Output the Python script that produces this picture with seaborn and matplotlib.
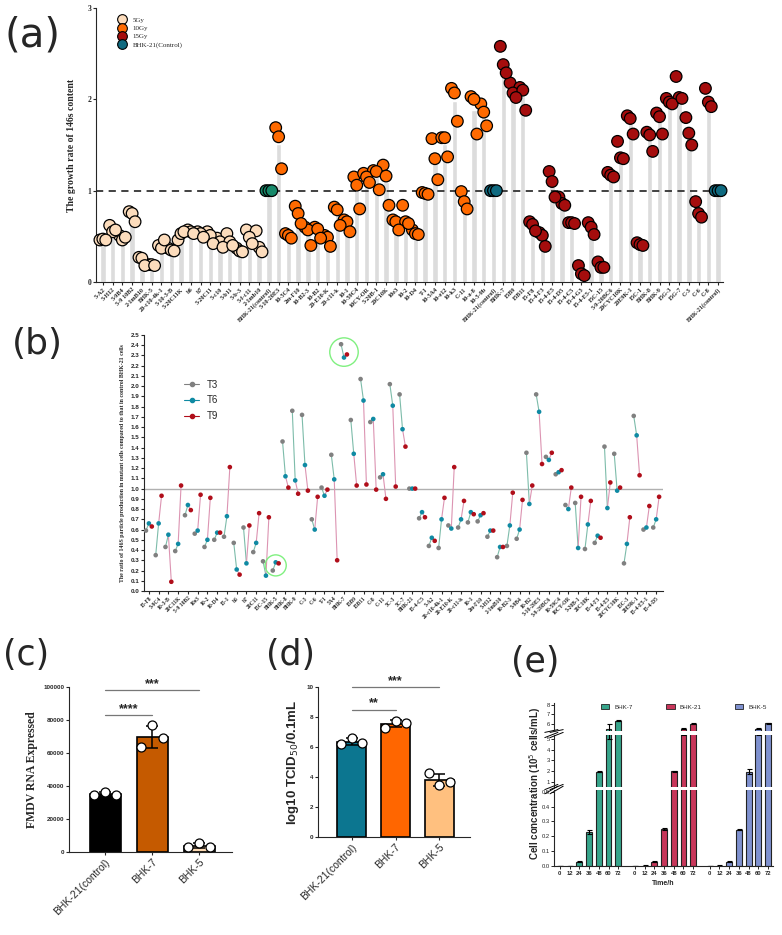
import numpy as np
import pandas as pd
import matplotlib
matplotlib.use('Agg')
import matplotlib.pyplot as plt
import seaborn as sns
from matplotlib.lines import Line2D
from matplotlib.patches import Patch

sns.set_style('ticks')
plt.rcParams['font.family'] = ['Liberation Sans', 'DejaVu Sans']
SERIF = 'Liberation Serif'

# ---------------- (a) growth rate of 146S content, 3 replicates per clone
a_labels = ['5-A2', '5-H12', '5-9B4', '5-9 10B2', '2-1mB10', 'BHK-5', '20-c10-4k-1', '5-10-3-B',
            '5-20C11K', 'b6', 'b7', '5-20C11', '5-c10', '5-b11', '5-b-3', '5-f-c11', '2-1mb10',
            'BHK-21(control)',
            '5-10-20E3', '10-5C4', '2m-F10', '10-B2-3', '10-B2', '20-E10-K', '20-c11-k', '10-1',
            '10-59C4', '10CY-OR', '5-20B-1', '20C10K', '10e3', '10-2', '10-D4', 'T-1', '10-5A4',
            '10-e12', '10-k3', 'C-11', '10-a-8', '10-5-9b', 'BHK-21(control)',
            'BHK-7', '15B9', '15B11', '15-F8', '15-4-F3', '15-4-E5', '15-4-D5', '15-4-C5',
            '15-4-G3', '15-4-E5-1', '15C-15', '5-9-20BC6', '20CYC10K', '20E9K-1', '15C-1',
            'BHK-8', 'BHK-9', '15G-3', '15G-7', 'C-3', 'C-6', 'C-8', 'BHK-21(control)']
a_dose = ['5Gy'] * 17 + ['Control-5'] + ['10Gy'] * 22 + ['Control'] + ['15Gy'] * 22 + ['Control']
a_rep1 = [0.46, 0.62, 0.51, 0.77, 0.27, 0.19, 0.40, 0.37, 0.46, 0.57, 0.55, 0.55, 0.48, 0.53, 0.37, 0.57, 0.56, 1.00,
          1.69, 0.53, 0.83, 0.60, 0.60, 0.51, 0.82, 0.68, 1.15, 1.19, 1.22, 1.28, 0.68, 0.84, 0.57, 0.98, 1.57, 1.58,
          2.12, 0.99, 2.03, 1.95, 1.00,
          2.58, 2.18, 2.13, 0.66, 0.54, 1.21, 0.93, 0.65, 0.18, 0.65, 0.22, 1.20, 1.54, 1.82, 0.43, 1.64, 1.85, 2.01,
          2.25, 1.80, 0.88, 2.12, 1.00]
a_rep2 = [0.47, 0.55, 0.46, 0.75, 0.26, 0.19, 0.37, 0.35, 0.53, 0.55, 0.53, 0.51, 0.44, 0.44, 0.34, 0.49, 0.38, 1.00,
          1.59, 0.51, 0.75, 0.57, 0.58, 0.49, 0.79, 0.66, 1.06, 1.15, 1.21, 1.16, 0.66, 0.66, 0.53, 0.97, 1.35, 1.58,
          2.07, 0.88, 2.00, 1.86, 1.00,
          2.38, 2.07, 2.10, 0.63, 0.51, 1.10, 0.86, 0.65, 0.09, 0.60, 0.16, 1.17, 1.36, 1.79, 0.41, 1.61, 1.81, 1.97,
          2.02, 1.63, 0.75, 1.97, 1.00]
a_rep3 = [0.46, 0.57, 0.49, 0.66, 0.18, 0.18, 0.46, 0.34, 0.55, 0.53, 0.49, 0.42, 0.38, 0.40, 0.33, 0.42, 0.33, 1.00,
          1.24, 0.48, 0.64, 0.40, 0.48, 0.39, 0.62, 0.55, 0.80, 1.09, 1.01, 0.84, 0.57, 0.64, 0.52, 0.96, 1.12, 1.37,
          1.76, 0.80, 1.62, 1.71, 1.00,
          2.29, 2.02, 1.88, 0.56, 0.39, 0.93, 0.84, 0.64, 0.07, 0.52, 0.16, 1.15, 1.35, 1.62, 0.40, 1.43, 1.62, 1.95,
          2.01, 1.50, 0.71, 1.92, 1.00]

# ---------------- (b) 146S ratio at T3 / T6 / T9
b_labels = ['15-F8', '5-9C4', '10-3-B', '20C11K', '5-9 10B2', '10e3', '10-2', '10-D4', '15-1', 'b6', 'b7',
            '20C11', '15C-15', 'BHK-5', 'BHK-8', 'BHK-9', 'C-3', 'C-6', 'T-1', '5A4', 'BHK-7', '15B9',
            '15B11', 'C-8', 'C-11', '5C-3', '5C-7', 'BHK-21', '15-4-C5', '5-A2', '20-c10-4k-1', '20-E10-K',
            '20-c11-k', '10-1', '2m-F10', '5-H12', '2-1mB10', '10-B2-3', '5-9B4', '10-B2', '5-10-20E3',
            '5-9-20BC6', '10-59C4', '10CY-OR', '5-20B-1', '20C10K', '15-4-F3', '15-4-E5', '20CYC10K',
            '15C-3', '20E9K-1', '15-4-E5-1', '15-4-D5']
b_t3 = [0.59, 0.35, 0.43, 0.39, 0.74, 0.56, 0.43, 0.50, 0.53, 0.47, 0.62, 0.38, 0.29, 0.20, 1.46, 1.76, 1.72,
        0.70, 1.01, 1.33, 2.41, 1.67, 2.07, 1.65, 1.11, 2.02, 1.92, 1.00, 0.71, 0.44, 0.42, 0.64, 0.62, 0.67,
        0.68, 0.53, 0.33, 0.44, 0.51, 1.35, 1.92, 1.31, 1.14, 0.84, 0.86, 0.41, 0.47, 1.41, 1.34, 0.27, 1.71,
        0.60, 0.62]
b_t6 = [0.66, 0.66, 0.55, 0.46, 0.84, 0.59, 0.50, 0.57, 0.73, 0.21, 0.27, 0.47, 0.15, 0.28, 1.12, 1.08, 1.23,
        0.60, 0.93, 1.09, 2.28, 1.34, 1.86, 1.68, 1.14, 1.81, 1.58, 1.00, 0.77, 0.52, 0.70, 0.61, 0.70, 0.77,
        0.74, 0.59, 0.43, 0.64, 0.60, 0.85, 1.75, 1.28, 1.16, 0.80, 0.42, 0.65, 0.54, 0.81, 0.98, 0.46, 1.52,
        0.62, 0.70]
b_t9 = [0.63, 0.93, 0.09, 1.03, 0.79, 0.94, 0.91, 0.57, 1.21, 0.16, 0.64, 0.76, 0.72, 0.27, 1.01, 0.95, 0.98,
        0.92, 0.99, 0.30, 2.31, 1.03, 1.04, 0.99, 0.90, 1.02, 1.41, 1.00, 0.72, 0.49, 0.91, 1.21, 0.88, 0.75,
        0.76, 0.59, 0.43, 0.96, 0.89, 1.03, 1.24, 1.35, 1.18, 1.01, 0.92, 0.88, 0.52, 1.06, 1.01, 0.72, 1.13,
        0.83, 0.92]
b_circled = ['BHK-5', 'BHK-7']

# ---------------- (c) FMDV RNA
cells = ['BHK-21(control)', 'BHK-7', 'BHK-5']
c_rep = [[34600, 36600, 34600], [63800, 76900, 68800], [3100, 5400, 3200]]
# ---------------- (d) TCID50
d_rep = [[6.2, 6.6, 6.25], [7.3, 7.75, 7.6], [4.25, 3.5, 3.7]]

# ---------------- (e) cell growth
e_times = [0, 12, 24, 36, 48, 60, 72]
e_names = ['BHK-7', 'BHK-21', 'BHK-5']
e_bhk7 = [0, 0.002, 0.03, 0.23, 1.95, 5.45, 6.28]
e_bhk7_err = [0, 0.001, 0.003, 0.015, 0.06, 0.48, 0.05]
e_bhk21 = [0, 0.003, 0.03, 0.248, 1.98, 5.42, 6.0]
e_bhk21_err = [0, 0.001, 0.003, 0.008, 0.05, 0.05, 0.06]
e_bhk5 = [0, 0.003, 0.03, 0.245, 1.95, 5.42, 6.05]
e_bhk5_err = [0, 0.001, 0.003, 0.005, 0.2, 0.05, 0.05]

W, H = 782, 935
fig = plt.figure(figsize=(W / 100, H / 100), dpi=100)


def box(l, t, r, b):
    return [l / W, 1 - b / H, (r - l) / W, (b - t) / H]


def clean(ax):
    sns.despine(ax=ax)
    ax.tick_params(length=2.5, width=0.8, pad=1)


# ======================= (a)
axa = fig.add_axes(box(96, 8, 723, 282))
reps_a = np.array([a_rep1, a_rep2, a_rep3])
xa = np.arange(len(a_labels))
dfa = pd.DataFrame({'x': xa, 'mean': reps_a.mean(axis=0)})
sns.barplot(data=dfa, x='x', y='mean', native_scale=True, color='#dcdcdc', saturation=1,
            width=0.55, errorbar=None, ax=axa)
pts = pd.DataFrame({
    'x': np.concatenate([xa - 0.3, xa, xa + 0.3]),
    'val': reps_a.ravel(),
    'dose': a_dose * 3,
})
pal_a = {'5Gy': '#fcdcbc', '10Gy': '#ff6a00', '15Gy': '#a50d0d',
         'Control-5': '#17896a', 'Control': '#0f6a80'}
sns.scatterplot(data=pts, x='x', y='val', hue='dose', palette=pal_a, s=70, edgecolor='black',
                linewidth=0.9, legend=False, ax=axa, zorder=3, clip_on=False)
axa.axhline(1, color='#333333', ls='--', lw=1.3, dashes=(4, 3), zorder=2)
axa.set_xlim(-0.7, 63.5)
axa.set_ylim(0, 3)
axa.set_yticks([0, 1, 2, 3])
axa.set_yticklabels(['0', '1', '2', '3'], fontsize=5.5, family=SERIF, fontweight='bold')
axa.set_xticks(xa)
axa.set_xticklabels(a_labels, rotation=45, ha='right', rotation_mode='anchor', fontsize=4.5,
                    family=SERIF, fontweight='bold')
axa.set_xlabel('')
axa.set_ylabel('The growth rate of 146s content', family=SERIF, fontweight='bold', fontsize=7, labelpad=8)
clean(axa)
leg_a = [Line2D([], [], ls='', marker='o', ms=7, mfc=pal_a[k], mec='black', mew=0.8, label=t)
         for k, t in [('5Gy', '5Gy'), ('10Gy', '10Gy'), ('15Gy', '15Gy'), ('Control', 'BHK-21(Control)')]]
axa.legend(handles=leg_a, loc='upper left', bbox_to_anchor=(0.02, 0.99), frameon=False,
           prop={'family': SERIF, 'size': 5}, handletextpad=0.6, labelspacing=0.35)

# ======================= (b)
axb = fig.add_axes(box(144, 335, 663, 591))
xb = np.arange(len(b_labels))
off = 0.3
for i in xb:
    axb.plot([i - off, i], [b_t3[i], b_t6[i]], color='#7dbcaa', lw=0.8, zorder=1)
    axb.plot([i, i + off], [b_t6[i], b_t9[i]], color='#dc94b2', lw=0.8, zorder=1)
dfb = pd.DataFrame({
    'x': np.concatenate([xb - off, xb, xb + off]),
    'val': b_t3 + b_t6 + b_t9,
    'time': ['T3'] * len(xb) + ['T6'] * len(xb) + ['T9'] * len(xb),
})
pal_b = {'T3': '#808080', 'T6': '#0f8aa3', 'T9': '#b00e1a'}
sns.scatterplot(data=dfb, x='x', y='val', hue='time', palette=pal_b, s=11, marker='o',
                edgecolor='none', legend=False, ax=axb, zorder=3)
axb.axhline(1.0, color='#b0b0b0', lw=1.0, zorder=0)
for name in b_circled:
    k = b_labels.index(name)
    cy = np.mean([b_t3[k], b_t6[k], b_t9[k]])
    axb.scatter([k], [cy], s=230 if cy < 1 else 420, facecolor='none', edgecolor='#80f080', lw=1.0, zorder=4)
axb.set_xlim(-0.5, 52.7)
axb.set_ylim(0, 2.5)
axb.set_yticks(np.round(np.arange(0, 2.51, 0.1), 1))
axb.set_yticklabels([f'{v:.1f}' for v in np.arange(0, 2.51, 0.1)], fontsize=4.5, fontweight='bold')
axb.set_xticks(xb)
axb.set_xticklabels(b_labels, rotation=45, ha='right', rotation_mode='anchor', fontsize=4,
                    family=SERIF, fontweight='bold')
axb.set_xlabel('')
axb.set_ylabel('The ratio of 146S particle production in mutant cells compared to that in control BHK-21 cells',
               family=SERIF, fontweight='bold', fontsize=4.2, labelpad=4)
clean(axb)
leg_b = [Line2D([], [], color=pal_b[t], marker='o', ms=3, lw=0.8, label=t) for t in ['T3', 'T6', 'T9']]
axb.legend(handles=leg_b, loc='upper left', bbox_to_anchor=(0.06, 0.86), frameon=False, fontsize=7,
           handlelength=1.6, labelspacing=0.6)


# ======================= (c) & (d)
def rep_bars(ax, reps, colors, sig, ylab, ylim, yticks, fam, ylab_size):
    reps = np.array(reps, dtype=float)
    df = pd.DataFrame({'x': [0, 1, 2], 'mean': reps.mean(axis=1)})
    sns.barplot(data=df, x='x', y='mean', native_scale=True, hue='x', palette=colors, saturation=1,
                width=0.66, errorbar=None, edgecolor='black', linewidth=1.2, legend=False, ax=ax)
    ax.errorbar(df['x'], df['mean'], yerr=reps.std(axis=1, ddof=1), fmt='none', ecolor='black',
                elinewidth=1.1, capsize=4, capthick=1.1, zorder=3)
    dp = pd.DataFrame({'x': np.concatenate([[i - 0.24, i, i + 0.24] for i in range(3)]),
                       'val': reps.ravel()})
    sns.scatterplot(data=dp, x='x', y='val', color='white', edgecolor='black', linewidth=0.9, s=42,
                    ax=ax, zorder=4, clip_on=False)
    for x0, x1, y, txt in sig:
        ax.plot([x0, x1], [y, y], color='#777777', lw=0.9, clip_on=False)
        ax.text((x0 + x1) / 2, y, txt, ha='center', va='bottom', fontsize=9, fontweight='bold')
    ax.set_xlim(-0.77, 2.7)
    ax.set_ylim(*ylim)
    ax.set_yticks(yticks)
    ax.set_yticklabels([str(int(v)) for v in yticks], fontsize=4.5, fontweight='bold')
    ax.set_xticks([0, 1, 2])
    ax.set_xticklabels(cells, rotation=45, ha='right', rotation_mode='anchor', fontsize=7.5)
    ax.set_xlabel('')
    ax.set_ylabel(ylab, family=fam, fontweight='bold', fontsize=ylab_size, labelpad=4)
    clean(ax)


axc = fig.add_axes(box(69, 687, 232, 852))
rep_bars(axc, c_rep, {0: '#000000', 1: '#c55a00', 2: '#fcd9b2'},
         [(0, 1, 83000, '****'), (0, 2, 98000, '***')], 'FMDV RNA Expressed',
         (0, 100000), [0, 20000, 40000, 60000, 80000, 100000], SERIF, 8.5)

axd = fig.add_axes(box(318, 687, 470, 837))
rep_bars(axd, d_rep, {0: '#0c7690', 1: '#ff6600', 2: '#ffc07f'},
         [(0, 1, 8.5, '**'), (0, 2, 10.0, '***')], 'log10 TCID$_{50}$/0.1mL',
         (0, 10), [0, 2, 4, 6, 8, 10], 'Liberation Sans', 9.5)

# ======================= (e) broken axis growth curve
e_vals = [e_bhk7, e_bhk21, e_bhk5]
e_errs = [e_bhk7_err, e_bhk21_err, e_bhk5_err]
e_cols = ['#37a58b', '#c8365a', '#7f91cf']
gap = 7.7
rows = []
for g, name in enumerate(e_names):
    for j, t in enumerate(e_times):
        rows.append({'x': g * gap + j, 'val': e_vals[g][j], 'err': e_errs[g][j], 'cell': name, 'time': t})
dfe = pd.DataFrame(rows)

ax_top = fig.add_axes(box(554, 703, 773, 731))
ax_mid = fig.add_axes(box(554, 735, 773, 787))
ax_bot = fig.add_axes(box(554, 790, 773, 866))
for ax, lim, ticks in [(ax_top, (5.2, 8.2), [6, 7, 8]),
                       (ax_mid, (0.5, 5.37), [1, 2, 3, 4, 5]),
                       (ax_bot, (0, 0.511), [0, 0.1, 0.2, 0.3, 0.4, 0.5])]:
    sns.barplot(data=dfe, x='x', y='val', hue='cell', palette=dict(zip(e_names, e_cols)), native_scale=True,
                saturation=1, width=0.6, dodge=False, errorbar=None, edgecolor='#222222', linewidth=0.8,
                legend=False, ax=ax)
    ax.errorbar(dfe['x'], dfe['val'], yerr=dfe['err'], fmt='none', ecolor='black', elinewidth=0.8,
                capsize=1.8, capthick=0.8)
    ax.set_ylim(*lim)
    ax.set_yticks(ticks)
    ax.set_yticklabels([f'{v:g}' if ax is not ax_bot else f'{v:.1f}' for v in ticks], fontsize=4.2)
    ax.set_xlim(-0.6, 21.9)
    ax.set_xlabel('')
    ax.set_ylabel('')
    sns.despine(ax=ax, bottom=ax is not ax_bot)
    ax.tick_params(axis='y', length=2, width=0.7, pad=1)
    if ax is not ax_bot:
        ax.set_xticks([])
for ax in (ax_top, ax_mid):
    ax.spines['left'].set_linewidth(0.8)
ax_bot.spines['left'].set_linewidth(0.8)
ax_bot.spines['bottom'].set_linewidth(0.8)
ax_bot.set_xticks(dfe['x'])
ax_bot.set_xticklabels([str(t) for t in dfe['time']], fontsize=4.2, fontweight='bold')
ax_bot.tick_params(axis='x', length=2, width=0.7, pad=1.5)
ax_bot.set_xlabel('Time/h', fontsize=5, fontweight='bold', labelpad=3)
# break marks on the y axis
for ax, side in [(ax_top, 0), (ax_mid, 1), (ax_mid, 0), (ax_bot, 1)]:
    for dx in (-0.012, 0.012):
        ax.plot([-0.03 + dx, 0.03 + dx], [side - 0.05, side + 0.05], transform=ax.transAxes,
                color='black', lw=0.7, clip_on=False)
fig.text(535 / W, 1 - 783 / H, 'Cell concentration (10$^5$ cells/mL)', rotation=90, ha='center', va='center',
         fontsize=7, fontweight='bold')
leg_e = [Patch(facecolor=c, edgecolor='#222222', lw=0.6, label=n) for n, c in zip(e_names, e_cols)]
ax_top.legend(handles=leg_e, loc='upper left', bbox_to_anchor=(0.19, 1.15), ncol=3, frameon=False,
              fontsize=4.5, handlelength=1.3, handleheight=0.7, columnspacing=5.4, handletextpad=0.8)

# ======================= panel letters
for txt, x, y, fs in [('(a)', 4, 36, 29), ('(b)', 12, 344, 26), ('(c)', 3, 655, 25),
                      ('(d)', 266, 655, 25), ('(e)', 511, 662, 25)]:
    fig.text(x / W, 1 - y / H, txt, fontsize=fs, va='center', ha='left', family='DejaVu Sans')

fig.savefig('out.png', dpi=100)
